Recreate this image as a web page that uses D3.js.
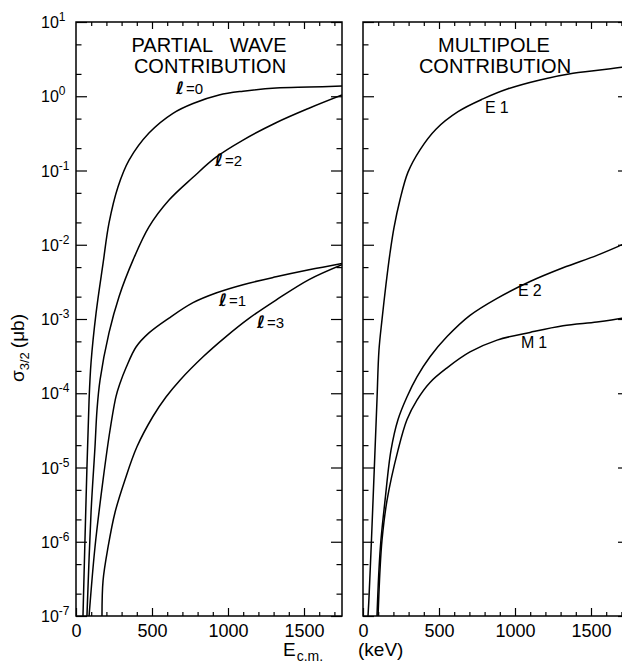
<!DOCTYPE html>
<html>
<head>
<meta charset="utf-8">
<script src="https://cdn.jsdelivr.net/npm/d3@7"></script>
<style>
  body { margin: 0; background: #fff; }
  svg { display: block; }
  text { font-family: "Liberation Sans", Arial, sans-serif; fill: #000; }
</style>
</head>
<body>
<div id="chart"></div>
<script>
// energies in keV (c.m.), cross sections in microbarn
var l0E = [46, 66, 86, 99, 132, 178, 217, 276, 349, 480, 638, 770, 941, 1099, 1316, 1533, 1750]
var l0S = [1e-7, 3.6e-6, 8.1e-5, 2.6e-4, 1.2e-3, 5.6e-3, 1.95e-2, 6.0e-2, 0.138, 0.32, 0.59, 0.80, 1.04, 1.17, 1.29, 1.33, 1.37]

var l2E = [72, 99, 125, 138, 158, 217, 283, 375, 480, 612, 770, 921, 1099, 1316, 1533, 1750]
var l2S = [1e-7, 2.5e-6, 1.9e-5, 5.9e-5, 1.5e-4, 6.5e-4, 2.0e-3, 6.2e-3, 1.74e-2, 4.0e-2, 8.1e-2, 0.151, 0.257, 0.44, 0.69, 1.04]

var l1E = [86, 125, 178, 224, 263, 289, 329, 395, 480, 612, 770, 921, 1099, 1316, 1533, 1750]
var l1S = [1e-7, 8.5e-7, 6.8e-6, 3.2e-5, 9e-5, 1.35e-4, 2.2e-4, 4.2e-4, 6.5e-4, 1.03e-3, 1.66e-3, 2.24e-3, 2.9e-3, 3.7e-3, 4.6e-3, 5.6e-3]

var l3E = [171, 178, 211, 257, 322, 401, 507, 592, 684, 836, 987, 1138, 1316, 1533, 1750]
var l3S = [1e-7, 3.0e-7, 8.5e-7, 2.5e-6, 6.8e-6, 1.9e-5, 4.9e-5, 8.9e-5, 1.5e-4, 3.1e-4, 5.8e-4, 1.02e-3, 1.8e-3, 3.4e-3, 5.4e-3]

var e1E = [33, 39, 53, 66, 79, 92, 105, 125, 151, 178, 204, 243, 296, 375, 480, 625, 789, 954, 1164, 1382, 1704, 1750]
var e1S = [1e-7, 1.7e-7, 7.8e-7, 3.6e-6, 1.7e-5, 8.1e-5, 3.8e-4, 9.8e-4, 2.9e-3, 7.8e-3, 1.7e-2, 4.0e-2, 9.5e-2, 0.19, 0.36, 0.62, 0.92, 1.26, 1.66, 2.04, 2.45, 2.55]

var e2E = [92, 105, 118, 145, 184, 230, 289, 355, 441, 553, 704, 882, 1099, 1316, 1539, 1704, 1750]
var e2S = [1e-7, 4.2e-7, 1.05e-6, 3.6e-6, 1.7e-5, 4.4e-5, 8.9e-5, 1.66e-4, 3.1e-4, 5.8e-4, 1.12e-3, 1.9e-3, 3.2e-3, 4.9e-3, 7.2e-3, 1.0e-2, 1.1e-2]

var m1E = [99, 112, 125, 158, 230, 289, 355, 441, 553, 704, 882, 1099, 1316, 1539, 1704, 1750]
var m1S = [1e-7, 4.2e-7, 1.05e-6, 3.6e-6, 1.7e-5, 4.4e-5, 8.1e-5, 1.4e-4, 2.2e-4, 3.6e-4, 5.2e-4, 6.6e-4, 8.1e-4, 9.1e-4, 1.02e-3, 1.07e-3]

var xMajor = [0, 500, 1000, 1500]
var decades = [-7, -6, -5, -4, -3, -2, -1, 0, 1]

var width = 622
var height = 663
var plotTop = 22, plotBottom = 616
var leftPanel = [76, 342]
var rightPanel = [363, 629]

var svg = d3.select("#chart").append("svg")
    .attr("width", width)
    .attr("height", height)

var y = d3.scaleLog().domain([1e-7, 10]).range([plotBottom, plotTop])
var xL = d3.scaleLinear().domain([0, 1750]).range(leftPanel)
var xR = d3.scaleLinear().domain([0, 1750]).range(rightPanel)

var majorY = decades.map(function(d) { return Math.pow(10, d) })
var minorY = []
decades.slice(0, -1).forEach(function(d) {
  minorY.push(2 * Math.pow(10, d), 5 * Math.pow(10, d))
})
var minorX = d3.range(100, 1800, 100).filter(function(d) { return d % 500 != 0 })

function drawPanel(x, id) {
  var g = svg.append("g")
  var x0 = x.range()[0], x1 = x.range()[1]

  // ticks, all pointing inward
  g.append("g").attr("transform", "translate(" + x0 + ",0)")
    .call(d3.axisLeft(y).tickValues(majorY).tickSize(-11).tickSizeOuter(0).tickFormat(""))
  g.append("g").attr("transform", "translate(" + x0 + ",0)")
    .call(d3.axisLeft(y).tickValues(minorY).tickSize(-5.5).tickSizeOuter(0).tickFormat(""))
  g.append("g").attr("transform", "translate(" + x1 + ",0)")
    .call(d3.axisRight(y).tickValues(majorY).tickSize(-11).tickSizeOuter(0).tickFormat(""))
  g.append("g").attr("transform", "translate(" + x1 + ",0)")
    .call(d3.axisRight(y).tickValues(minorY).tickSize(-5.5).tickSizeOuter(0).tickFormat(""))

  g.append("g").attr("class", "xlab").attr("transform", "translate(0," + plotBottom + ")")
    .call(d3.axisBottom(x).tickValues(xMajor).tickSize(-8).tickSizeOuter(0).tickPadding(8).tickFormat(d3.format("d")))
  g.append("g").attr("transform", "translate(0," + plotBottom + ")")
    .call(d3.axisBottom(x).tickValues(minorX).tickSize(-4).tickSizeOuter(0).tickFormat(""))
  g.append("g").attr("transform", "translate(0," + plotTop + ")")
    .call(d3.axisTop(x).tickValues(xMajor.slice(1)).tickSize(-7).tickSizeOuter(0).tickFormat(""))
  g.append("g").attr("transform", "translate(0," + plotTop + ")")
    .call(d3.axisTop(x).tickValues(minorX).tickSize(-4).tickSizeOuter(0).tickFormat(""))

  g.selectAll(".domain").remove()
  g.selectAll(".tick line").attr("stroke", "#000").attr("stroke-width", 1.2)
  g.selectAll(".xlab text")
    .style("font-family", "'Liberation Sans', Arial, sans-serif")
    .style("font-size", "18px")
    .attr("fill", "#000")

  g.append("rect")
    .attr("x", x0).attr("y", plotTop)
    .attr("width", x1 - x0).attr("height", plotBottom - plotTop)
    .attr("fill", "none").attr("stroke", "#000").attr("stroke-width", 1.5)

  svg.append("clipPath").attr("id", id)
    .append("rect")
    .attr("x", x0).attr("y", plotTop)
    .attr("width", x1 - x0).attr("height", plotBottom - plotTop)
  return g
}

drawPanel(xL, "clipL")
drawPanel(xR, "clipR")

function toPoints(es, ss) {
  return es.map(function(e, i) { return [e, ss[i]] })
}

function drawCurve(x, clip, es, ss) {
  var line = d3.line()
    .x(function(d) { return x(d[0]) })
    .y(function(d) { return y(d[1]) })
    .curve(d3.curveCatmullRom.alpha(0.5))
  svg.append("path")
    .datum(toPoints(es, ss))
    .attr("clip-path", "url(#" + clip + ")")
    .attr("d", line)
    .attr("fill", "none")
    .attr("stroke", "#000")
    .attr("stroke-width", 1.5)
}

drawCurve(xL, "clipL", l0E, l0S)
drawCurve(xL, "clipL", l2E, l2S)
drawCurve(xL, "clipL", l1E, l1S)
drawCurve(xL, "clipL", l3E, l3S)
drawCurve(xR, "clipR", e1E, e1S)
drawCurve(xR, "clipR", e2E, e2S)
drawCurve(xR, "clipR", m1E, m1S)

// y tick labels, 10 with exponent
decades.forEach(function(d) {
  var t = svg.append("text")
    .attr("x", 41)
    .attr("y", y(Math.pow(10, d)) + 6)
    .style("font-size", "16px")
  t.append("tspan").text("10")
  t.append("tspan").attr("dy", -7).style("font-size", "12px").text(d < 0 ? "-" + (-d) : String(d))
})

// panel titles
function title(txt, cx, by) {
  svg.append("text")
    .attr("x", cx).attr("y", by)
    .attr("text-anchor", "middle")
    .style("font-size", "20px")
    .style("word-spacing", "12px")
    .text(txt)
}
title("PARTIAL WAVE", 209, 52)
title("CONTRIBUTION", 210, 73)
title("MULTIPOLE", 494, 52)
title("CONTRIBUTION", 495, 73)

// curve labels
function ellLabel(n, x0, by) {
  var t = svg.append("text").attr("x", x0).attr("y", by).style("font-size", "15px")
  t.append("tspan")
    .style("font-family", "'DejaVu Sans', sans-serif")
    .style("font-style", "italic").style("font-weight", "bold")
    .style("font-size", "17px")
    .text("\u2113")
  t.append("tspan").attr("dx", 2).text("=" + n)
}
ellLabel("0", 176, 94)
ellLabel("2", 215, 166)
ellLabel("1", 219, 306)
ellLabel("3", 257, 328)

function multLabel(txt, x0, by) {
  svg.append("text").attr("x", x0).attr("y", by)
    .style("font-size", "16px")
    .style("letter-spacing", "4px")
    .text(txt)
}
multLabel("E1", 485, 113)
multLabel("E2", 518, 296)
multLabel("M1", 521, 348)

// axis titles
var yt = svg.append("text")
  .attr("transform", "translate(24,348) rotate(-90)")
  .attr("text-anchor", "middle")
  .style("font-size", "19px")
yt.append("tspan").text("\u03c3")
yt.append("tspan").attr("dy", 5).style("font-size", "13px").text("3/2")
yt.append("tspan").attr("dy", -5).attr("dx", 4).text("(\u03bcb)")

var xt = svg.append("text")
  .attr("x", 283).attr("y", 656)
  .style("font-size", "19px")
xt.append("tspan").text("E")
xt.append("tspan").attr("dy", 5).attr("dx", 1).style("font-size", "14px").text("c.m.")
xt.append("tspan").attr("x", 358).attr("dy", -5).text("(keV)")
</script>
</body>
</html>
